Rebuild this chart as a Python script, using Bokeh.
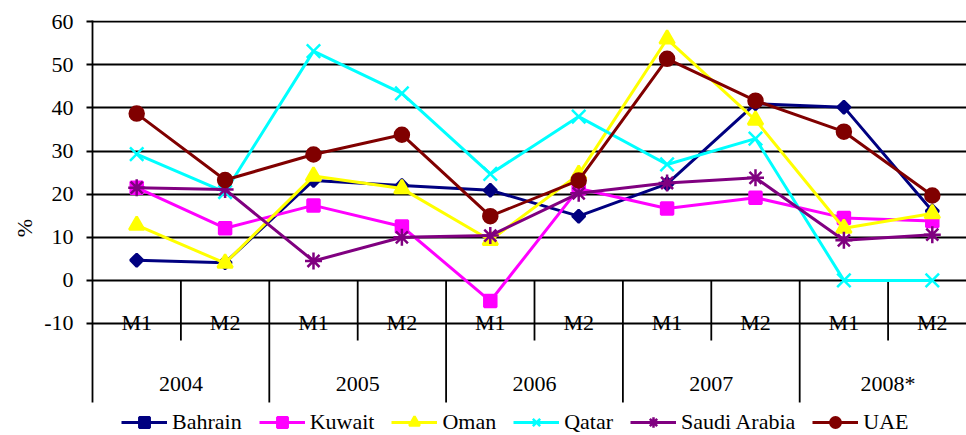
from bokeh.plotting import figure
from bokeh.models import Range1d, FixedTicker, Legend, LegendItem, Title
from bokeh.embed import file_html
from bokeh.resources import INLINE
from bokeh.core.properties import value
import numpy as np

# ---- data ----
years = ["2004", "2005", "2006", "2007", "2008*"]
months = ["M1", "M2"]
bahrain = [4.7, 4.1, 23.2, 22.0, 20.9, 14.9, 22.4, 41.0, 40.2, 16.1]
kuwait = [21.5, 12.1, 17.4, 12.5, -4.8, 21.3, 16.7, 19.2, 14.5, 13.8]
oman = [12.8, 4.0, 24.2, 21.3, 9.3, 24.6, 56.0, 37.2, 12.1, 15.5]
qatar = [29.3, 20.5, 53.2, 43.4, 24.7, 38.0, 26.9, 32.9, 0.0, 0.0]
saudi = [21.5, 21.1, 4.5, 10.0, 10.4, 20.2, 22.6, 23.8, 9.3, 10.6]
uae = [38.7, 23.3, 29.2, 33.8, 14.9, 23.2, 51.4, 41.7, 34.5, 19.7]
series_names = ["Bahrain", "Kuwait", "Oman", "Qatar", "Saudi Arabia", "UAE"]
y_ticks = [-10, 0, 10, 20, 30, 40, 50, 60]
y_tick_labels = {t: str(t) for t in y_ticks}
y_title = "%"

FONT = "Liberation Serif"
FS = "22px"

Y_TOP = 60.3       # top of plotting area
Y_TABLE = -28.33   # bottom of the category table
Y_BOTTOM = -35.99  # bottom of the frame (legend strip)

categories = [(y, m) for y in years for m in months]
n = len(categories)
xpos = [i + 0.5 for i in range(n)]

p = figure(width=966, height=435,
           x_range=Range1d(0, 9.887), y_range=Range1d(Y_BOTTOM, Y_TOP),
           output_backend="svg", toolbar_location=None,
           x_axis_location=None,
           min_border_left=92, min_border_right=0,
           min_border_top=20, min_border_bottom=0)
p.outline_line_color = None
p.background_fill_color = "white"
p.border_fill_color = "white"

# y axis
ax = p.yaxis[0]
ax.ticker = FixedTicker(ticks=y_ticks, minor_ticks=[])
ax.major_label_overrides = y_tick_labels
ax.bounds = (Y_TABLE, Y_TOP)
ax.major_tick_out = 6
ax.major_tick_in = 0
ax.minor_tick_out = 0
ax.minor_tick_in = 0
ax.axis_line_color = "black"
ax.axis_line_width = 1.8
ax.major_tick_line_color = "black"
ax.major_tick_line_width = 1.8
ax.major_label_text_font = FONT
ax.major_label_text_font_size = FS
ax.major_label_text_color = "black"
ax.major_label_standoff = 13

# y-axis title placed as a left-side title so it can sit at the reference height
p.add_layout(Title(text=y_title, align="center", offset=26, standoff=10,
                   text_font=FONT, text_font_size=FS, text_font_style="normal",
                   text_color="black"), "left")

for g in p.ygrid:
    g.grid_line_color = "black"
    g.grid_line_width = 1.8
for g in p.xgrid:
    g.visible = False

# category table lines
inner = [2 * k + 1 for k in range(len(years))]
yearb = [2 * k for k in range(1, len(years))]
p.segment(x0=inner, y0=[0] * len(inner), x1=inner, y1=[-13.95] * len(inner),
          line_color="black", line_width=1.8)
p.segment(x0=yearb, y0=[0] * len(yearb), x1=yearb, y1=[Y_TABLE] * len(yearb),
          line_color="black", line_width=1.8)

# category labels
p.text(x=xpos, y=[-9.7] * n, text=[m for _, m in categories],
       text_align="center", text_baseline="alphabetic",
       text_font=value(FONT), text_font_size=FS, text_color="black")
p.text(x=[2 * k + 1 for k in range(len(years))], y=[-24.0] * len(years), text=years,
       text_align="center", text_baseline="alphabetic",
       text_font=value(FONT), text_font_size=FS, text_color="black")

styles = [
    dict(color="#000080", marker="square", size=9, angle=np.pi / 4),
    dict(color="#FF00FF", marker="square", size=12, angle=0),
    dict(color="#FFFF00", marker="triangle", size=15, angle=0),
    dict(color="#00FFFF", marker="x", size=19, angle=0),
    dict(color="#800080", marker="asterisk", size=17, angle=0),
    dict(color="#800000", marker="circle", size=14, angle=0),
]
data = [bahrain, kuwait, oman, qatar, saudi, uae]

items = []
for name, vals, st in zip(series_names, data, styles):
    lr = p.line(xpos, vals, line_color=st["color"], line_width=3)
    sr = p.scatter(xpos, vals, marker=st["marker"], size=st["size"], angle=st["angle"],
                   fill_color=st["color"], line_color=st["color"], line_width=2.5)
    items.append(LegendItem(label=name, renderers=[lr, sr]))

legend = Legend(items=items, orientation="horizontal", location=(29, 0),
                glyph_width=46, glyph_height=26, label_standoff=5, spacing=17,
                padding=0, margin=0, border_line_color=None,
                background_fill_alpha=0,
                label_text_font=FONT, label_text_font_size=FS,
                label_text_color="black")
p.add_layout(legend)

open("out.html", "w").write(file_html(p, INLINE))
